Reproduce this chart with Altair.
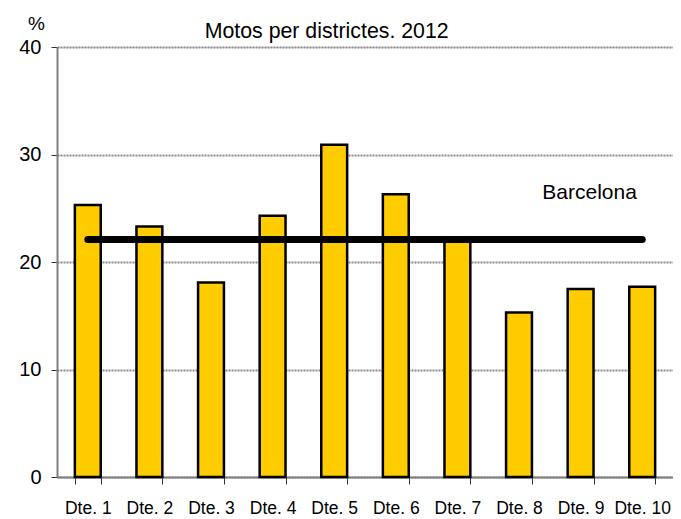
import altair as alt
import pandas as pd

districts = ["Dte. 1", "Dte. 2", "Dte. 3", "Dte. 4", "Dte. 5",
             "Dte. 6", "Dte. 7", "Dte. 8", "Dte. 9", "Dte. 10"]
values = [25.3, 23.3, 18.1, 24.3, 30.9, 26.3, 21.9, 15.3, 17.5, 17.7]
barcelona = 22.1
label_text = ["Barcelona"]
label_pos = ["Dte. 9"]
label_value = [26.4]

df = pd.DataFrame({"district": districts, "value": values,
                   "bcn": [barcelona] * len(districts)})
lab = pd.DataFrame({"district": label_pos, "value": label_value, "text": label_text})

FONT = "Liberation Sans"

xenc = alt.X("district:N", sort=districts,
             scale=alt.Scale(paddingInner=0.58, paddingOuter=0.29),
             axis=alt.Axis(title=None, labelAngle=0, labelFontSize=17.5, labelFont=FONT,
                           labelColor="black", tickBand="extent", tickSize=7,
                           tickColor="#333", tickWidth=1, domainColor="#808080",
                           domainWidth=2, labelPadding=15, grid=False))

yscale = alt.Scale(domain=[0, 40], nice=False)

bars = alt.Chart(df).mark_bar(color="#FFCC00", stroke="black", strokeWidth=2.5).encode(
    x=xenc,
    y=alt.Y("value:Q", scale=yscale,
            axis=alt.Axis(values=[0, 10, 20, 30, 40], title="%", titleAngle=0,
                          titleFont=FONT, titleFontSize=19, titleFontWeight="normal",
                          titleAlign="center", titleBaseline="middle",
                          titleX=-21, titleY=-24, labelFont=FONT, labelFontSize=20,
                          labelColor="black", labelPadding=10, tickSize=6,
                          tickColor="#333", domainColor="#808080", domainWidth=2,
                          grid=True, gridColor="#8a8a8a", gridDash=[2, 1],
                          gridWidth=2))
)

line = alt.Chart(df).mark_line(color="black", strokeWidth=7, strokeCap="round").encode(
    x=alt.X("district:N", sort=districts),
    y=alt.Y("bcn:Q", scale=yscale)
)

text = alt.Chart(lab).mark_text(font=FONT, fontSize=21, color="black",
                                align="center", baseline="middle", dx=9).encode(
    x=alt.X("district:N", sort=districts),
    y=alt.Y("value:Q", scale=yscale),
    text="text:N"
)

chart = alt.layer(bars, line, text).properties(
    width=616, height=430,
    title=alt.TitleParams("Motos per districtes. 2012", anchor="start", dx=186,
                          offset=-28, font=FONT, fontSize=21.3, fontWeight="normal",
                          color="black"),
    autosize=alt.AutoSizeParams(type="none"),
    padding={"left": 49, "top": 39, "right": 0, "bottom": 40},
).configure_view(stroke=None).configure(background="white")

chart.save("out.html", embed_options={"renderer": "svg", "actions": False})
